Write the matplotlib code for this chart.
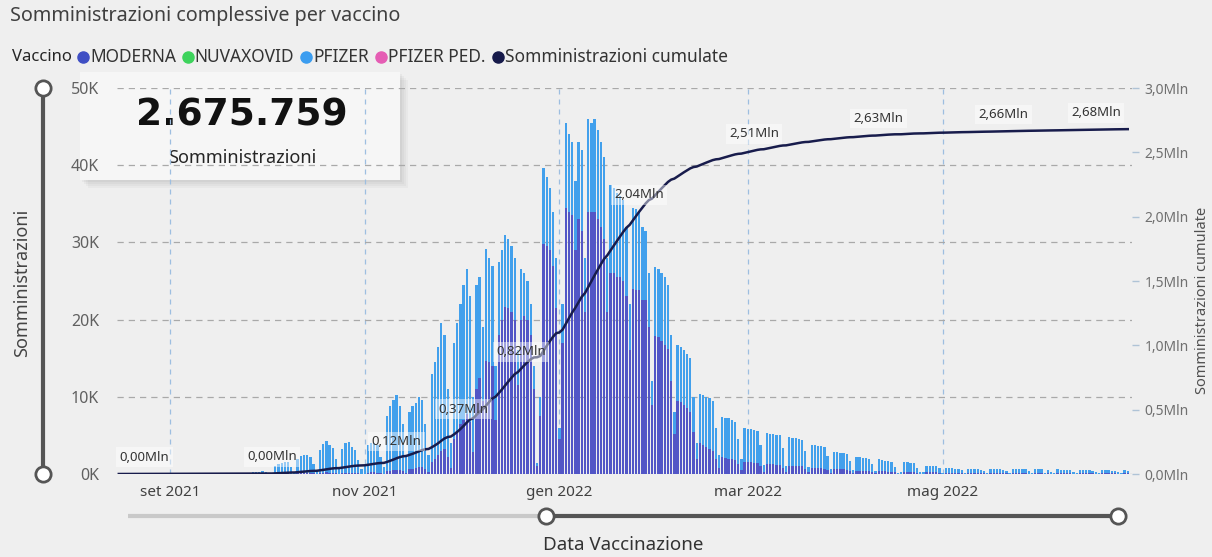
import numpy as np
import pandas as pd
import matplotlib
matplotlib.use("Agg")
import matplotlib.pyplot as plt
from matplotlib.patches import Rectangle

plt.rcParams["font.family"] = ["Noto Sans", "DejaVu Sans"]

# =========================
# 1) Data: daily doses in thousands, one row per week (Mon..Sun)
# =========================
start_date = "2021-08-16"

moderna = [
    0.02, 0.02, 0.01, 0.02, 0.01, 0.01, 0.00,   # 16 ago
    0.02, 0.01, 0.02, 0.01, 0.01, 0.00, 0.00,   # 23 ago
    0.01, 0.01, 0.01, 0.01, 0.01, 0.00, 0.00,   # 30 ago
    0.01, 0.01, 0.01, 0.01, 0.01, 0.00, 0.00,   # 6 set
    0.01, 0.01, 0.01, 0.01, 0.01, 0.00, 0.00,   # 13 set
    0.01, 0.01, 0.01, 0.02, 0.01, 0.00, 0.00,   # 20 set
    0.02, 0.03, 0.02, 0.03, 0.02, 0.01, 0.00,   # 27 set
    0.06, 0.07, 0.08, 0.08, 0.09, 0.05, 0.02,   # 4 ott
    0.10, 0.12, 0.13, 0.12, 0.11, 0.07, 0.03,   # 11 ott
    0.15, 0.18, 0.20, 0.18, 0.16, 0.09, 0.03,   # 18 ott
    0.16, 0.19, 0.19, 0.17, 0.15, 0.08, 0.03,   # 25 ott
    0.06, 0.19, 0.20, 0.20, 0.19, 0.11, 0.04,   # 1 nov
    0.35, 0.45, 0.50, 0.55, 0.50, 0.35, 0.10,   # 8 nov
    0.6, 0.7, 0.8, 0.9, 0.9, 0.6, 0.2,          # 15 nov
    1.5, 2.0, 2.5, 3.0, 3.2, 2.2, 0.8,          # 22 nov
    4.5, 5.5, 6.5, 7.0, 7.8, 6.8, 2.8,          # 29 nov
    11.0, 12.5, 9.5, 14.7, 14.5, 14.0, 7.0,     # 6 dic
    18.0, 20.0, 21.6, 21.5, 21.0, 20.0, 11.5,   # 13 dic
    20.0, 20.5, 20.0, 18.0, 11.0, 1.0, 7.5,     # 20 dic
    29.8, 29.5, 29.0, 27.0, 21.5, 4.5, 17.0,    # 27 dic
    34.5, 34.0, 33.5, 29.0, 33.0, 31.5, 21.0,   # 3 gen
    34.0, 34.0, 34.0, 33.0, 32.0, 30.5, 21.0,   # 10 gen
    26.0, 26.0, 25.5, 25.5, 25.0, 23.0, 16.0,   # 17 gen
    24.0, 23.8, 23.8, 22.5, 22.5, 19.0, 9.0,    # 24 gen
    17.9, 17.7, 17.2, 16.7, 16.2, 12.0, 5.2,    # 31 gen
    9.5, 9.3, 9.0, 8.5, 8.0, 5.4, 2.0,          # 7 feb
    4.0, 3.8, 3.5, 3.3, 3.0, 2.0, 0.8,          # 14 feb
    2.2, 2.1, 2.0, 1.9, 1.8, 1.3, 0.5,          # 21 feb
    1.6, 1.5, 1.5, 1.4, 1.4, 1.0, 0.3,          # 28 feb
    1.3, 1.3, 1.3, 1.2, 1.2, 0.8, 0.3,          # 7 mar
    1.1, 1.1, 1.0, 1.0, 1.0, 0.7, 0.2,          # 14 mar
    0.8, 0.8, 0.8, 0.8, 0.7, 0.5, 0.15,         # 21 mar
    0.6, 0.6, 0.6, 0.6, 0.55, 0.35, 0.1,        # 28 mar
    0.45, 0.45, 0.45, 0.4, 0.4, 0.25, 0.1,      # 4 apr
    0.4, 0.36, 0.35, 0.32, 0.32, 0.2, 0.02,     # 11 apr
    0.05, 0.3, 0.3, 0.3, 0.26, 0.16, 0.05,      # 18 apr
    0.05, 0.24, 0.24, 0.2, 0.2, 0.15, 0.02,     # 25 apr
    0.15, 0.15, 0.14, 0.13, 0.13, 0.10, 0.03,   # 2 mag
    0.12, 0.12, 0.11, 0.11, 0.10, 0.08, 0.02,   # 9 mag
    0.12, 0.11, 0.11, 0.11, 0.10, 0.07, 0.02,   # 16 mag
    0.12, 0.12, 0.11, 0.10, 0.10, 0.06, 0.02,   # 23 mag
    0.10, 0.10, 0.10, 0.03, 0.09, 0.05, 0.02,   # 30 mag
    0.10, 0.09, 0.09, 0.08, 0.08, 0.05, 0.02,   # 6 giu
    0.09, 0.08, 0.08, 0.08, 0.07, 0.05, 0.02,   # 13 giu
    0.08, 0.08, 0.08, 0.07, 0.07, 0.04, 0.02,   # 20 giu
    0.08, 0.07,                                 # 27 giu
]

pfizer = [
    0.06, 0.05, 0.07, 0.05, 0.05, 0.02, 0.01,
    0.05, 0.06, 0.05, 0.05, 0.04, 0.02, 0.01,
    0.05, 0.05, 0.04, 0.04, 0.05, 0.02, 0.01,
    0.04, 0.05, 0.04, 0.04, 0.04, 0.02, 0.01,
    0.05, 0.04, 0.05, 0.04, 0.04, 0.02, 0.01,
    0.07, 0.08, 0.09, 0.10, 0.09, 0.04, 0.02,
    0.22, 0.27, 0.28, 0.32, 0.28, 0.14, 0.05,
    0.94, 1.23, 1.32, 1.42, 1.51, 0.85, 0.28,
    1.90, 2.18, 2.37, 2.28, 2.09, 1.23, 0.47,
    2.95, 3.72, 4.10, 3.52, 3.24, 1.81, 0.57,
    3.14, 3.81, 3.91, 3.33, 2.95, 1.72, 0.57,
    1.14, 3.61, 3.80, 3.80, 3.61, 2.09, 0.86,
    7.15, 8.35, 9.10, 9.65, 8.30, 6.15, 2.40,
    7.4, 8.1, 8.4, 9.1, 8.7, 5.9, 2.3,
    11.5, 12.5, 14.0, 16.5, 14.8, 8.8, 3.2,
    12.5, 14.0, 15.5, 17.5, 18.7, 16.2, 7.2,
    13.5, 13.0, 9.5, 14.5, 13.5, 13.0, 7.0,
    9.5, 9.0, 9.3, 9.0, 8.5, 8.0, 4.5,
    6.5, 5.5, 5.0, 4.0, 3.0, 0.4, 2.5,
    9.9, 9.0, 8.0, 7.0, 6.5, 1.5, 5.0,
    11.0, 10.0, 9.5, 9.0, 10.0, 10.5, 7.0,
    12.0, 11.5, 12.0, 11.5, 11.0, 10.5, 7.0,
    11.5, 11.0, 10.9, 10.5, 10.5, 9.0, 6.0,
    10.5, 10.5, 10.2, 9.5, 9.0, 7.0, 3.0,
    8.9, 8.8, 8.8, 8.8, 8.3, 6.0, 2.8,
    7.2, 7.2, 7.0, 7.0, 7.0, 4.6, 2.0,
    6.4, 6.4, 6.5, 6.5, 6.5, 4.0, 1.7,
    5.2, 5.2, 5.2, 5.1, 5.0, 3.2, 1.5,
    4.3, 4.3, 4.3, 4.3, 4.2, 2.8, 0.9,
    4.0, 3.9, 3.9, 3.9, 3.8, 2.6, 0.7,
    3.7, 3.6, 3.6, 3.5, 3.4, 2.3, 0.7,
    2.9, 2.9, 2.8, 2.8, 2.8, 1.8, 0.55,
    2.2, 2.2, 2.1, 2.1, 2.05, 1.35, 0.4,
    1.75, 1.75, 1.65, 1.7, 1.6, 1.05, 0.3,
    1.6, 1.44, 1.35, 1.38, 1.28, 0.7, 0.08,
    0.15, 1.2, 1.2, 1.1, 1.14, 0.64, 0.25,
    0.15, 0.86, 0.86, 0.8, 0.8, 0.65, 0.08,
    0.60, 0.60, 0.61, 0.57, 0.57, 0.40, 0.12,
    0.53, 0.53, 0.49, 0.49, 0.45, 0.37, 0.08,
    0.53, 0.49, 0.49, 0.49, 0.45, 0.33, 0.08,
    0.58, 0.53, 0.54, 0.50, 0.50, 0.29, 0.08,
    0.50, 0.50, 0.50, 0.12, 0.46, 0.25, 0.08,
    0.50, 0.46, 0.46, 0.42, 0.42, 0.25, 0.08,
    0.46, 0.42, 0.42, 0.42, 0.38, 0.25, 0.08,
    0.42, 0.42, 0.42, 0.38, 0.38, 0.21, 0.08,
    0.42, 0.38,
]

card_value = "2.675.759"
card_label = "Somministrazioni"

label_dates = ["2021-08-24", "2021-10-03", "2021-11-11", "2021-12-02", "2021-12-20",
               "2022-01-26", "2022-03-03", "2022-04-11", "2022-05-20", "2022-06-18"]

month_ticks = ["2021-09-01", "2021-11-01", "2022-01-01", "2022-03-01", "2022-05-01"]
month_labels = ["set 2021", "nov 2021", "gen 2022", "mar 2022", "mag 2022"]

left_ticks = [0, 10000, 20000, 30000, 40000, 50000]
left_labels = ["0K", "10K", "20K", "30K", "40K", "50K"]
right_ticks = [0, 500000, 1000000, 1500000, 2000000, 2500000, 3000000]
right_labels = ["0,0Mln", "0,5Mln", "1,0Mln", "1,5Mln", "2,0Mln", "2,5Mln", "3,0Mln"]

legend_names = ["MODERNA", "NUVAXOVID", "PFIZER", "PFIZER PED.", "Somministrazioni cumulate"]
legend_colors = ["#3F4FC4", "#3DD35C", "#3B9DF0", "#E55DB4", "#161A4A"]

# =========================
# 2) Prepare series
# =========================
days = pd.date_range(start_date, periods=len(moderna), freq="D")
m = np.array(moderna) * 1000
p = np.array(pfizer) * 1000
cum = np.cumsum(m + p)

BG = "#EFEFEF"
COL_MOD = "#5256C6"
COL_PFI = "#42A0EC"
COL_LINE = "#181C4C"

# =========================
# 3) Figure, background layer (card, sliders, titles)
# =========================
fig = plt.figure(figsize=(12.12, 5.57), dpi=100, facecolor=BG)

ov = fig.add_axes([0, 0, 1, 1])
ov.set_zorder(0)
ov.set_xlim(0, 1212)
ov.set_ylim(557, 0)
ov.axis("off")
ov.patch.set_alpha(0)

# =========================
# 4) Main chart (drawn above the card)
# =========================
ax = fig.add_axes([0.0965, 0.149, 0.8375, 0.693])
ax.set_zorder(1)
ax.set_facecolor("none")

ax.bar(days, m, width=0.72, color=COL_MOD, zorder=2)
ax.bar(days, p, bottom=m, width=0.72, color=COL_PFI, zorder=2)

ax.set_ylim(0, 50000)
ax.set_xlim(pd.Timestamp("2021-08-15 10:00"), pd.Timestamp("2022-06-29 08:00"))
ax.set_yticks(left_ticks)
ax.set_yticklabels(left_labels)
ax.set_xticks(pd.to_datetime(month_ticks))
ax.set_xticklabels(month_labels)
ax.set_axisbelow(True)
ax.yaxis.grid(True, linestyle=(0, (5, 4)), color="#A9A9A9", linewidth=0.9)
ax.xaxis.grid(True, linestyle=(0, (4, 4)), color="#9DBEE0", linewidth=0.9)
ax.tick_params(axis="y", length=0, pad=13, labelsize=11.5, labelcolor="#606060")
ax.tick_params(axis="x", length=0, pad=8, labelsize=11, labelcolor="#404040")
for s in ax.spines.values():
    s.set_visible(False)

ax2 = ax.twinx()
ax2.set_zorder(2)
ax2.patch.set_visible(False)
ax2.plot(days, cum, color=COL_LINE, linewidth=1.8, zorder=3)
ax2.set_ylim(0, 3000000)
ax2.set_yticks(right_ticks)
ax2.set_yticklabels(right_labels)
ax2.tick_params(axis="y", length=5, width=1, color="#AFC3D6", pad=4,
                labelsize=10, labelcolor="#707070")
for s in ax2.spines.values():
    s.set_visible(False)

for d in label_dates:
    i = days.get_loc(pd.Timestamp(d))
    v = cum[i]
    txt = f"{v / 1e6:.2f}".replace(".", ",") + "Mln"
    ax2.annotate(txt, (days[i], v), xytext=(0, 12), textcoords="offset points",
                 ha="center", va="center", fontsize=9.5, color="#333333",
                 bbox=dict(boxstyle="square,pad=0.25", fc="white", ec="none", alpha=0.45),
                 zorder=4)

# =========================
# 5) Texts, legend, sliders, card
# =========================
ov.text(10, 16, "Somministrazioni complessive per vaccino", fontsize=14.2,
        color="#404040", va="center", ha="left")

fig.canvas.draw()
r = fig.canvas.get_renderer()
t = ov.text(12, 57, "Vaccino", fontsize=12, fontweight="bold", color="#252525",
            va="center", ha="left")
x = t.get_window_extent(r).x1 + 11
for name, col in zip(legend_names, legend_colors):
    ov.plot([x], [57], marker="o", markersize=8, color=col, linestyle="none")
    t = ov.text(x + 7, 57, name, fontsize=12.5, color="#333333", va="center", ha="left")
    x = t.get_window_extent(r).x1 + 12

ov.text(22, 283, "Somministrazioni", rotation=90, fontsize=13, color="#444444",
        va="center", ha="center")
ov.text(1203, 300, "Somministrazioni cumulate", rotation=90, fontsize=10.5,
        color="#505050", va="center", ha="center")
ov.text(623, 545, "Data Vaccinazione", fontsize=13.5, color="#333333",
        va="center", ha="center")

# vertical slider (left)
ov.plot([43, 43], [88, 474], color="#555555", linewidth=3, solid_capstyle="butt")
ov.plot([43, 43], [88, 474], marker="o", markersize=11, markerfacecolor="white",
        markeredgecolor="#555555", markeredgewidth=2, linestyle="none")

# horizontal slider (bottom)
ov.plot([128, 546], [516, 516], color="#C9C9C9", linewidth=3, solid_capstyle="butt")
ov.plot([546, 1118], [516, 516], color="#555555", linewidth=3, solid_capstyle="butt")
ov.plot([546, 1118], [516, 516], marker="o", markersize=11, markerfacecolor="white",
        markeredgecolor="#555555", markeredgewidth=2, linestyle="none")

# card with soft shadow
for k, a in enumerate([0.05, 0.05, 0.06, 0.07]):
    off = 8 - 2 * k
    ov.add_patch(Rectangle((80 + off, 72 + off), 320, 108, facecolor="#707070",
                           edgecolor="none", alpha=a))
ov.add_patch(Rectangle((80, 72), 320, 108, facecolor="#F6F6F6", edgecolor="none"))
ov.text(242, 116, card_value, fontsize=27, fontweight="bold", color="#111111",
        family="DejaVu Sans", va="center", ha="center")
ov.text(242, 158, card_label, fontsize=13, fontweight="semibold", color="#252525",
        va="center", ha="center")

fig.savefig("out.png", dpi=100, facecolor=BG)
